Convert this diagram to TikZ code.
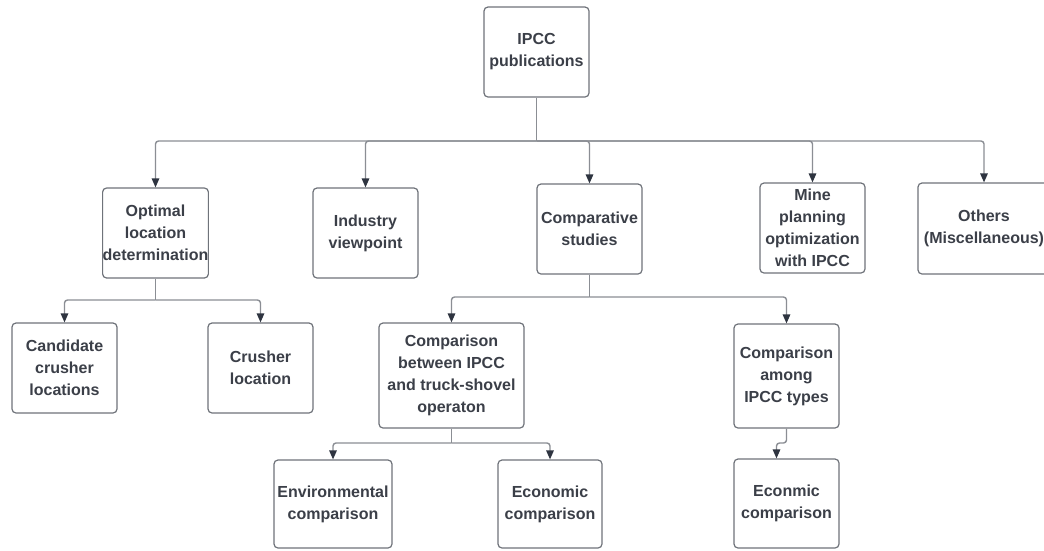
\documentclass[tikz,border=0pt]{standalone}
\usepackage{fontspec}
\setmainfont{Liberation Sans}
\usetikzlibrary{arrows.meta}
\definecolor{boxline}{HTML}{6F737A}
\definecolor{connline}{HTML}{8B8E94}
\definecolor{tipcol}{HTML}{2E3440}
\definecolor{txtcol}{HTML}{3B3F48}
\begin{document}
\begin{tikzpicture}[x=1pt,y=-1pt,
  box/.style={draw=boxline, line width=1.2pt, rounded corners=4pt, fill=white,
    text=txtcol, font=\fontsize{16}{22}\selectfont\bfseries, align=center,
    inner sep=0pt, minimum width=105pt, minimum height=90pt, anchor=center},
  link/.style={draw=connline, line width=1.4pt, rounded corners=3pt,
    -{Triangle[length=9pt,width=7.5pt,color=tipcol,fill=tipcol]}},
  plain/.style={draw=connline, line width=1.4pt, rounded corners=3pt}]
\clip (0,0) rectangle (1044,550);
\fill[white] (0,0) rectangle (1044,550);

% root
\node[box] (ipcc) at (536.5,52) {IPCC\\publications};

% first level
\node[box] (opt)  at (155.5,233) {Optimal\\location\\determination};
\node[box] (ind)  at (365.5,233) {Industry\\viewpoint};
\node[box] (comp) at (589.5,229) {Comparative\\studies};
\node[box] (mine) at (812.5,228) {Mine\\planning\\optimization\\with IPCC};
\node[box, minimum width=132pt, minimum height=91pt] (oth) at (984,228.5) {Others\\(Miscellaneous)};

% second level
\node[box] (cand) at (64.5,368) {Candidate\\crusher\\locations};
\node[box] (crl)  at (260.5,368) {Crusher\\location};
\node[box, minimum width=145pt, minimum height=105pt] (cmpb) at (451.5,375.5) {Comparison\\between IPCC\\and truck-shovel\\operaton};
\node[box, minimum height=104pt] (cmpa) at (786.5,376) {Comparison\\among\\IPCC types};

% third level
\node[box, minimum width=118pt, minimum height=88pt] (env) at (333,504) {Environmental\\comparison};
\node[box, minimum width=104pt, minimum height=88pt] (eco) at (550,504) {Economic\\comparison};
\node[box, minimum height=89pt] (eco2) at (786.5,503.5) {Econmic\\comparison};

% branch levels
\coordinate (busA) at (536.5,141);
\coordinate (busB) at (155.5,300);
\coordinate (busC) at (589.5,297);
\coordinate (busD) at (451.5,443);
\coordinate (busE) at (786.5,443);

% root to first level
\draw[plain] (ipcc.south) -- (busA);
\foreach \t in {opt,ind,comp,mine,oth}
  \draw[link] (busA) -| (\t.north);

% optimal location branch
\draw[plain] (opt.south) -- (busB);
\foreach \t in {cand,crl}
  \draw[link] (busB) -| (\t.north);

% comparative studies branch
\draw[plain] (comp.south) -- (busC);
\foreach \t in {cmpb,cmpa}
  \draw[link] (busC) -| (\t.north);

% IPCC vs truck-shovel branch
\draw[plain] (cmpb.south) -- (busD);
\foreach \t in {env,eco}
  \draw[link] (busD) -| (\t.north);

% IPCC types branch
\draw[link] (cmpa.south) -- (busE) -| ([xshift=-10pt]eco2.north);
\end{tikzpicture}
\end{document}
